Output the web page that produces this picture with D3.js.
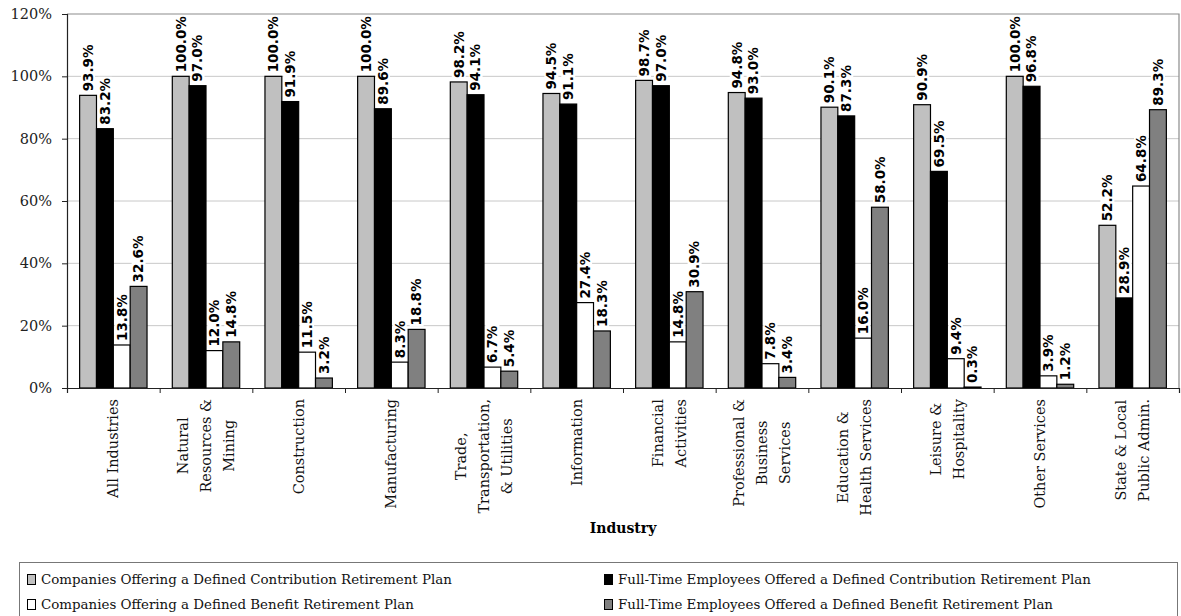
<!DOCTYPE html>
<html>
<head>
<meta charset="utf-8">
<script src="https://cdn.jsdelivr.net/npm/d3@7"></script>
<style>
  html, body { margin: 0; padding: 0; background: #fff; }
  svg { display: block; }
</style>
</head>
<body>
<svg id="chart" width="1181" height="616"></svg>
<script>
// Industry categories, each split into the lines shown under the axis
const categories = [
  "All Industries",
  "Natural Resources & Mining",
  "Construction",
  "Manufacturing",
  "Trade, Transportation, & Utilities",
  "Information",
  "Financial Activities",
  "Professional & Business Services",
  "Education & Health Services",
  "Leisure & Hospitality",
  "Other Services",
  "State & Local Public Admin."
];
const categoryLines = [
  ["All Industries"],
  ["Natural", "Resources &", "Mining"],
  ["Construction"],
  ["Manufacturing"],
  ["Trade,", "Transportation,", "& Utilities"],
  ["Information"],
  ["Financial", "Activities"],
  ["Professional &", "Business", "Services"],
  ["Education &", "Health Services"],
  ["Leisure &", "Hospitality"],
  ["Other Services"],
  ["State & Local", "Public Admin."]
];

// Series names
const seriesNames = [
  "Companies Offering a Defined Contribution Retirement Plan",
  "Full-Time Employees Offered a Defined Contribution Retirement Plan",
  "Companies Offering a Defined Benefit Retirement Plan",
  "Full-Time Employees Offered a Defined Benefit Retirement Plan"
];

// Percentages per industry, one array per series
const companiesDC = [93.9, 100.0, 100.0, 100.0, 98.2, 94.5, 98.7, 94.8, 90.1, 90.9, 100.0, 52.2];
const employeesDC = [83.2, 97.0, 91.9, 89.6, 94.1, 91.1, 97.0, 93.0, 87.3, 69.5, 96.8, 28.9];
const companiesDB = [13.8, 12.0, 11.5, 8.3, 6.7, 27.4, 14.8, 7.8, 16.0, 9.4, 3.9, 64.8];
const employeesDB = [32.6, 14.8, 3.2, 18.8, 5.4, 18.3, 30.9, 3.4, 58.0, 0.3, 1.2, 89.3];

// Y axis tick values (percent)
const yTicks = [0, 20, 40, 60, 80, 100, 120];

const seriesValues = [companiesDC, employeesDC, companiesDB, employeesDB];
const seriesFill = ["#c0c0c0", "#000000", "#ffffff", "#808080"];

const svg = d3.select("#chart");
const plot = { left: 67, right: 1179, top: 14, bottom: 388 };

const serifFont = "'DejaVu Serif', serif";
const sansBold = "'DejaVu Sans', sans-serif";

// Scales
const pad = 1.5 / 5.5;
const x0 = d3.scaleBand()
  .domain(categories)
  .range([plot.left, plot.right])
  .paddingInner(pad)
  .paddingOuter(pad / 2);
const x1 = d3.scaleBand()
  .domain(d3.range(seriesNames.length))
  .range([0, x0.bandwidth()]);
const y = d3.scaleLinear().domain([0, 120]).range([plot.bottom, plot.top]);
const xEdge = d3.scaleLinear().domain([0, categories.length]).range([plot.left, plot.right]);

// Gridlines
svg.append("g")
  .selectAll("line")
  .data(yTicks.filter(t => t > 0 && t < 120))
  .join("line")
  .attr("x1", plot.left).attr("x2", plot.right)
  .attr("y1", d => y(d)).attr("y2", d => y(d))
  .attr("stroke", "#c8c8c8").attr("stroke-width", 1);

// Plot frame (top and right)
svg.append("path")
  .attr("d", `M${plot.left},${plot.top}H${plot.right}V${plot.bottom}`)
  .attr("fill", "none").attr("stroke", "#8c8c8c").attr("stroke-width", 1.2);

// Data rows
const rows = categories.map((c, i) => ({
  category: c,
  values: seriesValues.map((s, k) => ({ key: k, value: s[i], category: c }))
}));

const groups = svg.append("g")
  .selectAll("g")
  .data(rows)
  .join("g")
  .attr("transform", d => `translate(${x0(d.category)},0)`);

groups.selectAll("rect")
  .data(d => d.values)
  .join("rect")
  .attr("x", d => x1(d.key))
  .attr("width", x1.bandwidth())
  .attr("y", d => y(d.value))
  .attr("height", d => y(0) - y(d.value))
  .attr("fill", d => seriesFill[d.key])
  .attr("stroke", "#000")
  .attr("stroke-width", 1.2);

// Value labels (rotated, on a white backing)
const labels = groups.selectAll("g.lbl")
  .data(d => d.values)
  .join("g")
  .attr("class", "lbl")
  .attr("transform", d => `translate(${x1(d.key) + x1.bandwidth() / 2},${y(d.value) - 4}) rotate(-90)`);

labels.append("text")
  .attr("x", 0).attr("y", 0)
  .attr("dy", "0.36em")
  .attr("font-family", sansBold)
  .attr("font-weight", "bold")
  .attr("font-size", 13.5)
  .attr("fill", "#000")
  .text(d => d3.format(".1f")(d.value) + "%");

labels.each(function () {
  const g = d3.select(this);
  const w = g.select("text").node().getComputedTextLength();
  g.insert("rect", "text")
    .attr("x", -1).attr("y", -7)
    .attr("width", w + 2).attr("height", 14)
    .attr("fill", "#fff");
});

// Y axis
const yAxis = svg.append("g")
  .attr("transform", `translate(${plot.left},0)`)
  .call(d3.axisLeft(y).tickValues(yTicks).tickSize(5).tickPadding(10)
    .tickFormat(d => d + "%"));
yAxis.select(".domain").attr("stroke", "#222").attr("stroke-width", 1.2);
yAxis.selectAll(".tick line").attr("stroke", "#222");
yAxis.selectAll("text")
  .attr("font-family", serifFont).attr("font-size", 14.5).attr("fill", "#222");

// X axis with ticks at category boundaries
const xAxis = svg.append("g")
  .attr("transform", `translate(0,${plot.bottom})`)
  .call(d3.axisBottom(xEdge).tickValues(d3.range(categories.length + 1))
    .tickSize(5).tickFormat(""));
xAxis.select(".domain").attr("stroke", "#222").attr("stroke-width", 1.2);
xAxis.selectAll(".tick line").attr("stroke", "#222");

// Category labels, rotated, lines centered on each other
const lineGap = 23;
const catLabels = svg.append("g")
  .selectAll("g")
  .data(categories.map((c, i) => ({ c, lines: categoryLines[i] })))
  .join("g");

catLabels.each(function (d) {
  const g = d3.select(this);
  const cx = x0(d.c) + x0.bandwidth() / 2;
  const n = d.lines.length;
  const texts = d.lines.map((line, j) =>
    g.append("text")
      .attr("font-family", serifFont)
      .attr("font-size", 14.5)
      .attr("fill", "#111")
      .attr("text-anchor", "middle")
      .attr("dy", "0.35em")
      .text(line));
  const maxLen = d3.max(texts, t => t.node().getComputedTextLength());
  const cy = plot.bottom + 11 + maxLen / 2;
  texts.forEach((t, j) => {
    const lx = cx + (j - (n - 1) / 2) * lineGap;
    t.attr("transform", `translate(${lx},${cy}) rotate(-90)`);
  });
});

// Axis title
svg.append("text")
  .attr("x", (plot.left + plot.right) / 2)
  .attr("y", 533)
  .attr("text-anchor", "middle")
  .attr("font-family", serifFont)
  .attr("font-weight", "bold")
  .attr("font-size", 14)
  .attr("fill", "#000")
  .text("Industry");

// Legend
const legend = svg.append("g");
legend.append("rect")
  .attr("x", 19.5).attr("y", 562.5)
  .attr("width", 1158).attr("height", 70)
  .attr("fill", "#fff").attr("stroke", "#777").attr("stroke-width", 1);

const legendPos = [
  { x: 27, y: 574 }, { x: 604, y: 574 },
  { x: 27, y: 599 }, { x: 604, y: 599 }
];
const legendItems = legend.selectAll("g.item")
  .data(seriesNames.map((name, k) => ({ name, k })))
  .join("g")
  .attr("class", "item")
  .attr("transform", d => `translate(${legendPos[d.k].x},${legendPos[d.k].y})`);

legendItems.append("rect")
  .attr("x", 0.5).attr("y", 0.5)
  .attr("width", 8).attr("height", 10)
  .attr("fill", d => seriesFill[d.k])
  .attr("stroke", "#000").attr("stroke-width", 1);

legendItems.append("text")
  .attr("x", 14).attr("y", 5.5)
  .attr("dy", "0.35em")
  .attr("font-family", serifFont)
  .attr("font-size", 13.4)
  .attr("fill", "#111")
  .text(d => d.name);
</script>
</body>
</html>
